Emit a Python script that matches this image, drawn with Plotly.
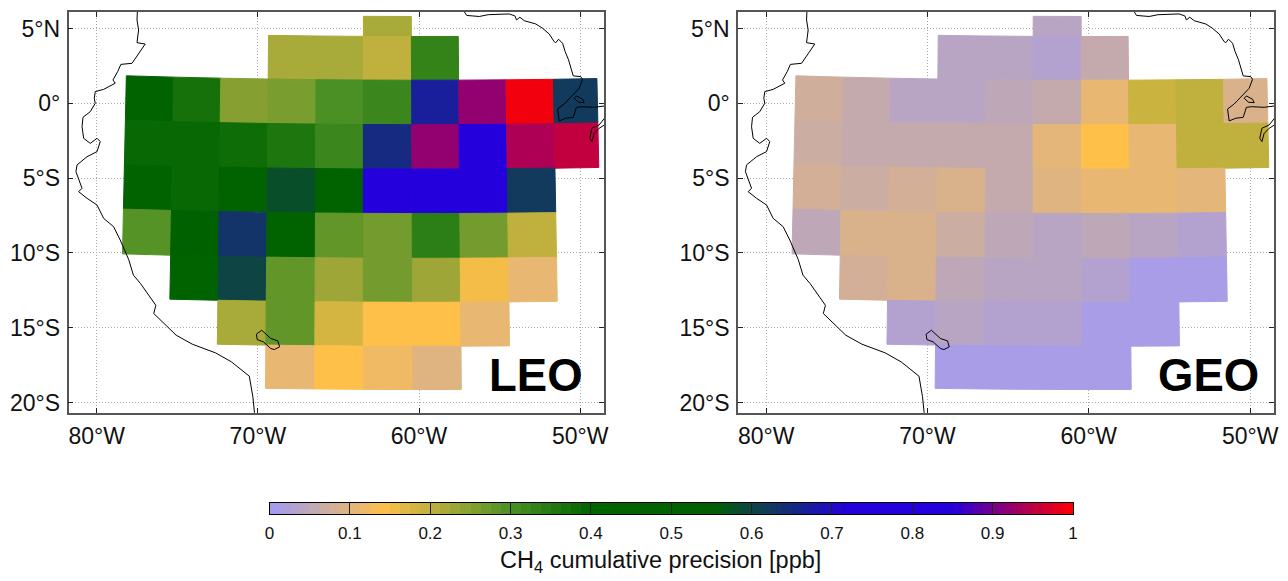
import plotly.graph_objects as go
from plotly.colors import sample_colorscale

# ---- data ----
lat_edges = [5.8, 4.46, 1.54, -1.43, -4.4, -7.37, -10.36, -13.3, -16.24, -19.13]
lon_edges = [-78.16, -75.22, -72.30, -69.36, -66.39, -63.45, -60.46, -57.54, -54.6, -51.66, -48.96]
N = None
leo_values = [
    [N, N, N, N, N, .22, N, N, N, N],
    [N, N, N, .22, .22, .20, .33, N, N, N],
    [.45, .37, .25, .26, .30, .32, .67, .92, .99, .62],
    [.39, .39, .38, .36, .32, .65, .92, .75, .94, .955],
    [.43, .39, .45, .58, .42, .75, .75, .75, .62, N],
    [.29, .50, .63, .45, .28, .265, .34, .265, .20, N],
    [N, .45, .60, .28, .23, .265, .23, .15, .11, N],
    [N, N, .22, .28, .18, .14, .14, .11, N, N],
    [N, N, N, .11, .14, .12, .10, N, N, N],
]
geo_values = [
    [N, N, N, N, N, .04, N, N, N, N],
    [N, N, N, .04, .04, .03, .06, N, N, N],
    [.075, .06, .04, .04, .05, .06, .11, .19, .20, .09],
    [.07, .06, .06, .06, .06, .105, .14, .11, .20, .20],
    [.08, .07, .08, .09, .06, .10, .11, .11, .105, N],
    [.05, .09, .09, .07, .05, .04, .05, .04, .03, N],
    [N, .08, .09, .05, .04, .04, .03, .01, .01, N],
    [N, N, .03, .04, .03, .03, .01, .01, N, N],
    [N, N, N, .01, .01, .01, .01, N, N, N],
]
coast_lon = [-77.46, -77.46, -77.5, -77.4, -77.5, -76.99, -77.4, -77.81, -78.5, -78.7, -78.99, -78.85, -79.57,
             -80.09, -80.15, -80.09, -80.4, -80.85, -80.91, -80.81, -80.4, -79.98, -79.78, -79.98, -80.6, -81.22,
             -81.29, -81.12, -80.91, -81.12, -80.6, -79.98, -79.57, -78.95, -78.54, -78.02, -77.72, -77.28, -76.33,
             -76.46, -75.73, -75.07, -74.07, -72.63, -71.64, -70.53, -70.31, -70.2, -70.18, None,
             -57.3, -57.19, -57.04, -56.26, -55.71, -55.02, -54.4, -54.05, -53.95, -53.74, -53.47, -52.75, -52.33,
             -51.92, -51.61, -51.51, -51.34, -51.09, -50.93, -50.72, -50.51, -50.43, -49.96, -49.85, -50.06, -50.58,
             -50.99, -51.4, -51.3, -50.89, -50.43, -50.23, -49.9, -49.13, -48.82, -48.49, -48.0, None,
             -50.37, -50.23, -49.85, -49.75, -50.1, -50.37, None,
             -48.0, -48.49, -48.82, -49.27, -49.4, -49.27, -49.13, -48.82, -48.49, -48.0, None,
             -69.76, -70.09, -70.04, -69.65, -69.2, -68.98, -68.65, -68.76, -69.2, -69.76]
coast_lat = [6.5, 6.13, 5.57, 4.9, 4.05, 3.96, 3.34, 2.67, 2.6, 2.11, 1.56, 1.34, 0.93,
             0.78, 0.33, 0.0, -0.56, -0.94, -1.56, -2.34, -2.68, -2.34, -2.56, -3.23, -3.57, -4.12,
             -4.57, -5.13, -5.68, -5.91, -6.35, -6.8, -7.69, -8.25, -9.14, -10.43, -11.49, -12.05, -13.5,
             -14.05, -14.83, -15.5, -16.1, -16.68, -17.28, -18.24, -19.62, -20.69, -21.0, None,
             6.5, 6.12, 5.87, 5.8, 5.92, 5.97, 5.97, 5.84, 5.57, 5.75, 5.52, 5.3, 5.01,
             4.63, 4.12, 4.05, 4.28, 4.01, 3.45, 2.9, 2.23, 1.83, 1.78, 1.6, 1.0, 0.4,
             -0.05, -0.38, -1.18, -1.0, -0.94, -0.27, -0.23, -0.27, -0.23, -0.18, -0.2, None,
             0.33, 0.49, 0.27, 0.04, 0.07, 0.33, None,
             -0.6, -1.0, -1.45, -1.67, -2.34, -2.56, -2.01, -1.67, -1.45, -1.1, None,
             -15.17, -15.43, -15.79, -15.95, -16.39, -16.46, -16.28, -15.88, -15.72, -15.17]
lon_ticks = [-80, -70, -60, -50]
lon_labels = ["80°W", "70°W", "60°W", "50°W"]
lat_ticks = [5, 0, -5, -10, -15, -20]
lat_labels = ["5°N", "0°", "5°S", "10°S", "15°S", "20°S"]
cbar_ticks = [0, .1, .2, .3, .4, .5, .6, .7, .8, .9, 1]
cbar_labels = ["0", "0.1", "0.2", "0.3", "0.4", "0.5", "0.6", "0.7", "0.8", "0.9", "1"]
cmap = [[0, "rgb(160,155,255)"], [.01, "rgb(168,157,230)"], [.05, "rgb(190,168,184)"], [.10, "rgb(224,180,128)"],
        [.14, "rgb(255,192,74)"], [.20, "rgb(192,176,62)"], [.30, "rgb(74,144,36)"], [.40, "rgb(0,100,0)"],
        [.55, "rgb(0,96,0)"], [.60, "rgb(14,68,68)"], [.65, "rgb(21,42,128)"], [.72, "rgb(36,0,221)"],
        [.85, "rgb(36,0,221)"], [.92, "rgb(147,0,112)"], [1, "rgb(255,0,0)"]]
LEVELS = 80  # the colour ramp is drawn in discrete steps


def node(i, j):
    """Corner of a grid cell: the retrieval grid is slightly curved on this map."""
    lon, lat = lon_edges[j], lat_edges[i]
    return (lon - 0.00137 * (lon + 63.45) * (lat - 1.54),
            lat + 0.29 * ((lon + 60) / 18) ** 2)


def cell_traces(values, xa, ya):
    traces = []
    for i, row in enumerate(values):
        for j, v in enumerate(row):
            if v is None:
                continue
            pts = [node(i, j), node(i, j + 1), node(i + 1, j + 1), node(i + 1, j), node(i, j)]
            colour = sample_colorscale(cmap, [v])[0]
            traces.append(go.Scatter(x=[p[0] for p in pts], y=[p[1] for p in pts], mode="lines", fill="toself",
                                     fillcolor=colour, line=dict(color=colour, width=1), xaxis=xa, yaxis=ya,
                                     showlegend=False, hoverinfo="text", text=str(v)))
    return traces


fig = go.Figure()
for values, xa, ya in ((leo_values, "x", "y"), (geo_values, "x2", "y2")):
    fig.add_traces(cell_traces(values, xa, ya))
    fig.add_trace(go.Scatter(x=coast_lon, y=coast_lat, mode="lines", xaxis=xa, yaxis=ya, showlegend=False,
                             hoverinfo="skip", line=dict(color="black", width=1)))

ramp = [(k + 0.5) / LEVELS for k in range(LEVELS)]
fig.add_trace(go.Heatmap(x=ramp, y=[0], z=[ramp], coloraxis="coloraxis", xaxis="x3", yaxis="y3", hoverinfo="skip"))

W, H = 1288, 581
FONT = "Liberation Sans"
TOP, BOTTOM = 12, 412.7
xcommon = dict(range=[-81.75, -48.52], tickvals=lon_ticks, ticktext=lon_labels, ticks="inside", ticklen=5,
               tickcolor="#222", showline=True, linecolor="#555", linewidth=1.5, mirror="ticks", showgrid=True,
               gridcolor="#aaa", griddash="1px,2px", gridwidth=1, zeroline=False, tickfont=dict(size=23, color="#111"),
               ticklabelstandoff=2, layer="below traces")
ycommon = dict(range=[-20.68, 6.1], tickvals=lat_ticks, ticktext=lat_labels, ticks="inside", ticklen=5,
               tickcolor="#222", showline=True, linecolor="#555", linewidth=1.5, mirror="ticks", showgrid=True,
               gridcolor="#aaa", griddash="1px,2px", gridwidth=1, zeroline=False, tickfont=dict(size=23, color="#111"),
               ticklabelstandoff=2, layer="below traces")
fig.update_layout(
    width=W, height=H, margin=dict(l=0, r=0, t=0, b=0, autoexpand=False), paper_bgcolor="white", plot_bgcolor="white",
    font=dict(family=FONT, color="#111"),
    xaxis=dict(domain=[68.5 / W, 604 / W], anchor="y", **xcommon),
    yaxis=dict(domain=[1 - BOTTOM / H, 1 - TOP / H], anchor="x", **ycommon),
    xaxis2=dict(domain=[738 / W, 1274 / W], anchor="y2", **xcommon),
    yaxis2=dict(domain=[1 - BOTTOM / H, 1 - TOP / H], anchor="x2", **ycommon),
    xaxis3=dict(domain=[269.5 / W, 1073 / W], anchor="y3", range=[0, 1], tickvals=cbar_ticks, ticktext=cbar_labels,
                ticks="inside", ticklen=11, tickcolor="#222", showline=True, linecolor="black", linewidth=1,
                mirror=True, showgrid=False, zeroline=False, tickfont=dict(size=17, color="#111"),
                ticklabelstandoff=4, layer="above traces"),
    yaxis3=dict(domain=[1 - 514 / H, 1 - 503 / H], anchor="x3", showticklabels=False, ticks="", showline=True,
                linecolor="black", linewidth=1, mirror=True, showgrid=False, zeroline=False),
    coloraxis=dict(cmin=0, cmax=1, colorscale=cmap, showscale=False),
    annotations=[
        dict(text="<b>LEO</b>", xref="paper", yref="paper", x=535.5 / W, y=1 - 375 / H, xanchor="center",
             yanchor="middle", showarrow=False, font=dict(size=45.5, color="black")),
        dict(text="<b>GEO</b>", xref="paper", yref="paper", x=1208.5 / W, y=1 - 375 / H, xanchor="center",
             yanchor="middle", showarrow=False, font=dict(size=45.5, color="black")),
        dict(text="CH<sub>4</sub> cumulative precision [ppb]", xref="paper", yref="paper", x=660 / W, y=1 - 561 / H,
             xanchor="center", yanchor="middle", showarrow=False, font=dict(size=23.5, color="#111")),
    ],
)
fig.write_html("out.html", post_script="document.body.style.margin='0';", config=dict(displayModeBar=False))
